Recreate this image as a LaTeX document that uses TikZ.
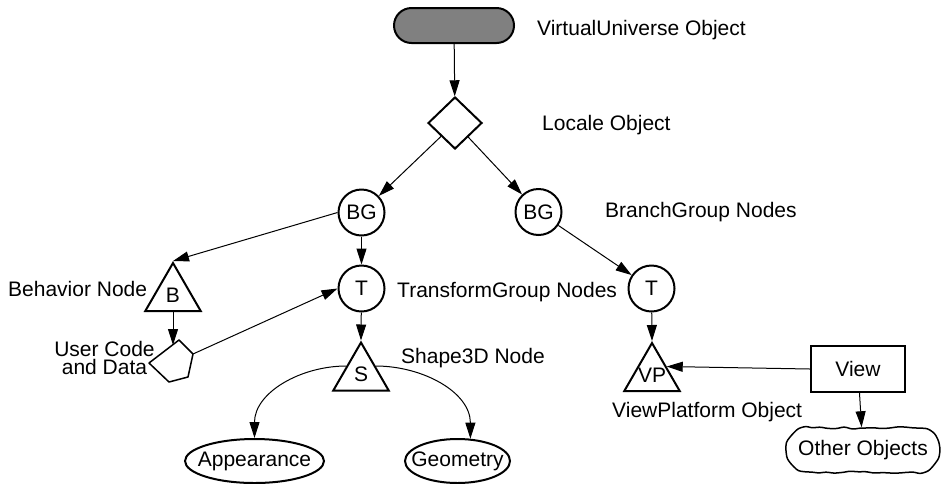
\documentclass[tikz,border=0pt]{standalone}
\usepackage{fontspec}
\setmainfont{Liberation Sans}
\usetikzlibrary{shapes.geometric,shapes.misc,arrows.meta,decorations.pathmorphing}
\tikzstyle{grp} = [draw, circle, line width=2pt, minimum size=46pt, inner sep=0pt]
\tikzstyle{leaf} = [draw, regular polygon, regular polygon sides=3, line width=2pt, minimum size=64pt, inner sep=0pt]
\tikzstyle{attr} = [draw, ellipse, line width=2pt, minimum height=44pt, inner xsep=-9pt, inner ysep=-4pt]
\tikzstyle{tag} = [anchor=base west, inner sep=0pt]
\tikzstyle{link} = [-{Triangle[length=16pt,width=10pt]}, line width=1pt]

\begin{document}
\begin{tikzpicture}[x=1pt,y=-1pt,font=\fontsize{21}{25}\selectfont]
    \pgfmathsetseed{7}
    \useasboundingbox (0,0) rectangle (944,483);
    \node[draw,line width=2pt,fill=black!50,rounded corners=17.5pt,minimum width=120pt,minimum height=35pt](vu) at (454,25.5){};
    \node[draw,diamond,line width=2pt,minimum width=54pt,minimum height=52pt,inner sep=0pt](loc) at (455,123){};
    \node[grp](bg1) at (361.5,212.5){BG};
    \node[grp](bg2) at (538.5,212){BG};
    \node[grp](t1) at (361.5,288.5){T};
    \node[grp](t2) at (651.5,288.5){T};
    \node[leaf](b) at (173,295){B};
    \node[leaf](s) at (361,374.5){S};
    \node[leaf,inner sep=-4pt](vp) at (652,375){VP};
    \node[attr,minimum width=139pt](app) at (254.5,461){Appearance};
    \node[attr,minimum width=105pt](geo) at (457.5,461){Geometry};
    \node[draw,line width=2pt,minimum width=94pt,minimum height=46pt](view) at (858,369){View};
    \node[draw,rounded rectangle,line width=1.5pt,rounded corners=2.5pt,decorate,decoration={random steps,segment length=8pt,amplitude=1.3pt},minimum width=158pt,minimum height=44pt](other) at (863,450){Other Objects};
    % user code and data
    \coordinate (ucd1) at (179,340);
    \coordinate (ucd2) at (193,354);
    \coordinate (ucd3) at (188,377);
    \coordinate (ucd4) at (169,382);
    \coordinate (ucd5) at (149,363);
    \coordinate (ucdin) at (173,345);
    \draw[line width=1.5pt,line join=round](ucd1)--(ucd2)--(ucd3)--(ucd4)--(ucd5)--cycle;
    % labels
    \node[tag](vulabel) at (537,35){VirtualUniverse Object};
    \node[tag](loclabel) at (542,130){Locale Object};
    \node[tag](bglabel) at (605,217){BranchGroup Nodes};
    \node[tag](tlabel) at (397,297){TransformGroup Nodes};
    \node[tag](blabel) at (8,296){Behavior Node};
    \node[align=center,inner sep=0pt,font=\fontsize{21}{18.5}\selectfont](ucdlabel) at (104.5,358){User Code\\and Data};
    \node[tag](slabel) at (401,363){Shape3D Node};
    \node[tag](vplabel) at (612,417){ViewPlatform Object};
    % links
    \draw[link](vu)--(loc);
    \draw[link](loc)--(bg1);
    \draw[link](loc)--(bg2);
    \draw[link](bg1.west)--(b.corner 1);
    \draw[link](bg1)--(t1);
    \draw[link](bg2)--(t2);
    \draw[link](b.side 2)--(ucdin);
    \draw[link](ucd2)--(t1.west);
    \draw[link](t1)--(s.corner 1);
    \draw[link](t2)--(vp.corner 1);
    \draw[link](s.side 1) to[out=180,in=90] (app.north);
    \draw[link](s.side 3) to[out=0,in=90] (geo.60);
    \draw[link](view.west)--(vp.side 3);
    \draw[link](view)--(other);
\end{tikzpicture}
\end{document}
